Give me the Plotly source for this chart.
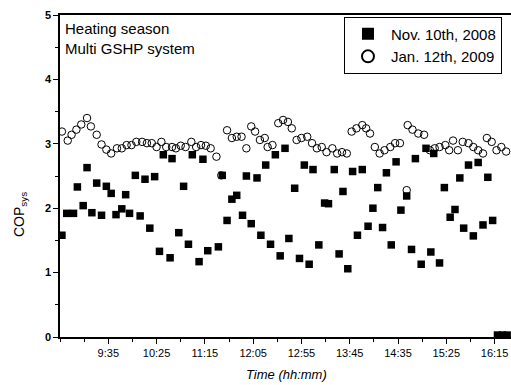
import plotly.graph_objects as go

# ---- data ----
nov_times = ["8:47","8:52","8:59","9:03","9:09","9:13","9:18","9:23","9:28","9:33",
             "9:38","9:43","9:49","9:53","9:57","10:03","10:08","10:13","10:18","10:23",
             "10:28","10:32","10:39","10:41","10:48","10:53","10:58","11:02","11:09","11:13",
             "11:18","11:29","11:33","11:38","11:43","11:48","11:54","11:58","12:03","12:09",
             "12:13","12:18","12:23","12:28","12:33","12:38","12:42","12:48","12:53","12:58",
             "13:03","13:07","13:13","13:19","13:23","13:29","13:34","13:38","13:43","13:48",
             "13:53","13:58","14:04","14:09","14:14","14:19","14:23","14:28","14:33","14:38",
             "14:44","14:49","14:53","14:59","15:04","15:09","15:12","15:18","15:23","15:29",
             "15:34","15:39","15:43","15:48","15:53","15:58","16:03","16:08","16:13",
             "16:18","16:23","16:28"]
nov_cop = [1.58,1.92,1.92,2.33,2.04,2.63,1.93,2.39,1.89,2.34,
           2.23,1.90,1.99,2.21,1.92,2.51,1.88,2.45,1.69,2.49,
           1.33,2.83,1.23,2.77,1.62,2.34,1.44,2.83,1.17,2.76,
           1.34,1.40,2.51,1.81,2.14,2.20,1.89,2.50,1.76,2.47,
           1.58,2.67,1.44,2.83,1.26,2.93,1.53,2.31,1.22,2.67,
           1.13,2.60,1.43,2.08,2.07,2.60,1.29,2.26,1.06,2.57,
           1.58,2.60,1.72,2.00,2.32,1.70,2.55,1.43,2.72,1.97,
           2.19,1.36,2.77,1.13,2.93,1.32,2.85,1.15,2.32,1.86,
           1.98,2.47,1.69,2.67,1.57,2.71,1.74,2.48,1.81,
           0.03,0.03,0.03]

jan_times = ["8:47","8:53","8:57","9:02","9:07","9:13","9:17","9:23","9:28","9:33",
             "9:38","9:44","9:49","9:54","9:59","10:04","10:10","10:15","10:20","10:25",
             "10:30","10:35","10:41","10:45","10:50","10:55","11:01","11:06","11:11","11:16",
             "11:21","11:27","11:32","11:38","11:43","11:48","11:53","11:58","12:03","12:07",
             "12:12","12:17","12:20","12:25","12:31","12:36","12:41","12:45","12:50","12:55",
             "13:01","13:06","13:11","13:16","13:21","13:27","13:32","13:37","13:42","13:47",
             "13:52","13:58","14:02","14:06","14:11","14:16","14:21","14:27","14:32","14:37",
             "14:44","14:45","14:50","14:56","15:02","15:08","15:13","15:18","15:24","15:28",
             "15:32","15:37","15:42","15:48","15:53","15:58","16:03","16:07","16:12","16:17",
             "16:22","16:27"]
jan_cop = [3.19,3.05,3.14,3.22,3.30,3.40,3.27,3.14,2.99,2.91,
           2.85,2.93,2.93,2.98,2.98,3.03,3.03,3.01,3.01,2.95,
           3.03,2.95,2.95,2.93,2.97,2.95,3.03,2.95,2.98,2.97,
           2.93,2.80,2.51,3.21,3.09,3.11,3.11,2.93,3.27,3.19,
           3.06,3.09,2.95,2.98,3.32,3.37,3.34,3.24,3.06,3.09,
           3.11,3.01,2.93,2.95,2.87,2.93,2.85,2.87,2.85,3.19,
           3.24,3.29,3.24,3.16,2.95,2.85,2.90,2.95,3.01,3.01,
           2.28,3.29,3.22,3.16,3.14,2.90,2.93,2.95,2.98,2.90,
           3.05,2.90,3.03,3.01,2.95,2.90,2.85,3.09,3.03,2.90,
           2.95,2.88]

tick_labels = ["9:35","10:25","11:15","12:05","12:55","13:45","14:35","15:25","16:15"]
y_ticks = [0, 1, 2, 3, 4, 5]

series_names = ["Nov. 10th, 2008", "Jan. 12th, 2009"]
annotation_lines = ["Heating season", "Multi GSHP system"]


def to_min(s):
    h, m = s.split(":")
    return int(h) * 60 + int(m)


x_start = to_min("8:45")
x_end = 992
minor_vals = list(range(x_start, x_end, 25))

fig = go.Figure()
fig.add_trace(go.Scatter(
    x=[to_min(t) for t in nov_times], y=nov_cop, mode="markers",
    name=series_names[0],
    marker=dict(symbol="square", size=7.5, color="black", line=dict(width=0)),
    cliponaxis=False,
))
fig.add_trace(go.Scatter(
    x=[to_min(t) for t in jan_times], y=jan_cop, mode="markers",
    name=series_names[1],
    marker=dict(symbol="circle-open", size=7.5, color="black", line=dict(width=1)),
))

font_family = "Liberation Sans, Arial, sans-serif"

fig.update_layout(
    width=511, height=385,
    margin=dict(l=60, r=0, t=15, b=48, autoexpand=False),
    paper_bgcolor="white", plot_bgcolor="white",
    font=dict(family=font_family, color="black"),
    showlegend=True,
    legend=dict(
        x=0.98, y=0.995, xanchor="right", yanchor="top",
        bordercolor="black", borderwidth=1, bgcolor="white",
        font=dict(size=15, family=font_family),
        tracegroupgap=0, itemsizing="constant", itemwidth=36,
    ),
    xaxis=dict(
        range=[x_start, x_end],
        tickmode="array",
        tickvals=[to_min(t) for t in tick_labels],
        ticktext=tick_labels,
        ticks="outside", ticklen=5, tickwidth=1, tickcolor="black",
        minor=dict(tickmode="array", tickvals=minor_vals, ticks="outside",
                   ticklen=3, tickcolor="black", tickwidth=1),
        showline=True, linecolor="black", linewidth=1.5, mirror=True,
        showgrid=False, zeroline=False,
        tickfont=dict(size=11, family=font_family),
    ),
    yaxis=dict(
        range=[0, 5],
        tickmode="array", tickvals=y_ticks,
        ticks="outside", ticklen=5, tickwidth=1, tickcolor="black",
        minor=dict(dtick=0.5, ticks="outside", ticklen=3, tickcolor="black", tickwidth=1),
        showline=True, linecolor="black", linewidth=1.5, mirror=False,
        showgrid=False, zeroline=False,
        tickfont=dict(size=11, family=font_family, weight="bold"),
    ),
    annotations=[
        dict(text="<br>".join(annotation_lines), xref="paper", yref="paper",
             x=0.006, y=0.99, xanchor="left", yanchor="top", align="left",
             showarrow=False, font=dict(size=15, family=font_family)),
        dict(text="COP<sub>sys</sub>", xref="paper", yref="paper",
             x=-0.0887, y=0.382, xanchor="center", yanchor="middle",
             textangle=-90, showarrow=False, font=dict(size=14, family=font_family)),
        dict(text="<i>Time (hh:mm)</i>", xref="paper", yref="paper",
             x=0.503, y=-0.118, xanchor="center", yanchor="middle",
             showarrow=False, font=dict(size=13, family=font_family)),
    ],
)

fig.write_html("out.html",
               config={"displayModeBar": False},
               post_script="document.body.style.margin='0px';document.body.style.padding='0px';")
